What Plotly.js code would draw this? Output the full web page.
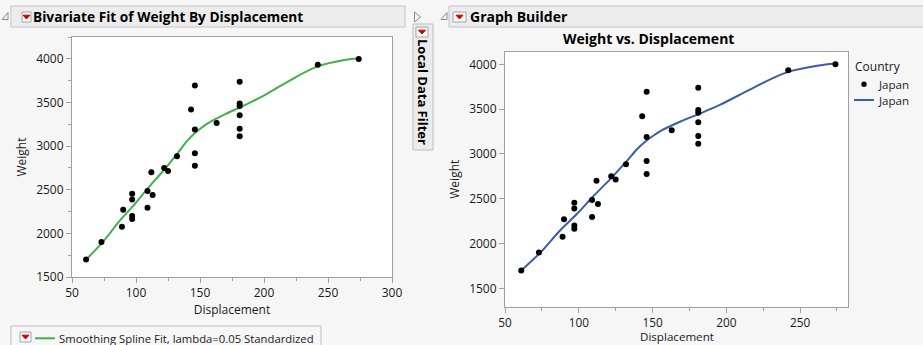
<!DOCTYPE html>
<html><head><meta charset="utf-8">
<script src="https://cdn.plot.ly/plotly-3.0.1.min.js"></script>
<style>html,body{margin:0;padding:0;background:#f6f6f6;}#chart{width:923px;height:345px;}</style>
</head><body><div id="chart"></div>
<script>
// ---- data ----
const displacement = [61, 73, 89, 90, 97, 97, 97, 97, 109, 109, 112, 113, 122, 125, 132, 143, 146, 146, 146, 146, 163, 181, 181, 181, 181, 181, 181, 242, 274];
const weight = [1700, 1900, 2075, 2270, 2455, 2390, 2200, 2165, 2485, 2295, 2700, 2440, 2750, 2715, 2885, 3420, 3695, 3190, 2920, 2775, 3265, 3740, 3490, 3460, 3355, 3200, 3115, 3935, 4000];
// smoothing spline fit
const fitDisplacement = [61, 74, 87, 99, 110, 122, 132, 140, 146, 152, 157, 169, 182, 196, 218, 241, 264, 274];
const fitWeight = [1700, 1900, 2140, 2335, 2530, 2730, 2910, 3060, 3150, 3220, 3270, 3362, 3450, 3550, 3735, 3910, 3990, 4008];
const countryName = "Japan";
const leftTitle = "Bivariate Fit of Weight By Displacement";
const rightTitle = "Graph Builder";
const chartTitle = "Weight vs. Displacement";
const fitLabel = "Smoothing Spline Fit, lambda=0.05 Standardized";
const xTitle = "Displacement";
const yTitle = "Weight";

const W = 923, H = 345;
const fx = x => x / W, fy = y => 1 - y / H;
const FONT = '"Open Sans", "Noto Sans", sans-serif';
const TXT = '#1a1a1a';
const AX = '#a0a0a0';
const GREEN = '#42b049';
const BLUE = '#3b5ca8';

const traces = [
  {x: fitDisplacement, y: fitWeight, xaxis: 'x', yaxis: 'y', mode: 'lines', line: {color: GREEN, width: 2, shape: 'spline', smoothing: 1}, showlegend: false, hoverinfo: 'skip'},
  {x: displacement, y: weight, xaxis: 'x', yaxis: 'y', mode: 'markers', marker: {color: '#000', size: 6}, showlegend: false},
  {x: fitDisplacement, y: fitWeight, xaxis: 'x2', yaxis: 'y2', mode: 'lines', line: {color: BLUE, width: 2, shape: 'spline', smoothing: 1}, name: countryName, showlegend: false, hoverinfo: 'skip'},
  {x: displacement, y: weight, xaxis: 'x2', yaxis: 'y2', mode: 'markers', marker: {color: '#000', size: 6}, name: countryName, showlegend: false}
];

const axBase = {showline: true, mirror: true, linecolor: AX, linewidth: 1, showgrid: false, zeroline: false,
  ticks: 'outside', ticklen: 5, tickcolor: AX, tickfont: {family: FONT, size: 12, color: TXT}, fixedrange: true};

function rect(x0, y0, x1, y1, fill, line, lw) {
  return {type: 'rect', xref: 'paper', yref: 'paper', x0: fx(x0), x1: fx(x1), y0: fy(y1), y1: fy(y0), fillcolor: fill, line: {color: line, width: lw === undefined ? 1 : lw}, layer: 'below'};
}
function path(pts, fill, line, close) {
  let d = pts.map((p, i) => (i ? 'L' : 'M') + fx(p[0]) + ',' + fy(p[1])).join(' ') + (close ? ' Z' : '');
  return {type: 'path', xref: 'paper', yref: 'paper', path: d, fillcolor: fill, line: {color: line, width: 1}};
}
function button(x0, y0, x1, y1) {
  const cx = (x0 + x1) / 2, cy = (y0 + y1) / 2;
  return [
    {type: 'rect', xref: 'paper', yref: 'paper', x0: fx(x0), x1: fx(x1), y0: fy(y1), y1: fy(y0), fillcolor: '#f9f9f9', line: {color: '#a6a6a6', width: 1}},
    path([[cx - 3.5, cy - 1.8], [cx + 3.5, cy - 1.8], [cx, cy + 2]], '#d00000', '#d00000', true)
  ];
}

const shapes = [
  rect(11, 6, 405, 27, '#ececec', '#c4c4c4'),
  rect(449, 6, 935, 27, '#ececec', '#c4c4c4'),
  rect(413, 24, 433, 150, '#ececec', '#bdbdbd'),
  rect(11, 326, 321, 352, '#f6f6f6', '#bdbdbd'),
  path([[8, 12.5], [8, 19.5], [2, 19.5]], 'rgba(0,0,0,0)', '#8a8a8a', true),
  path([[447, 12.5], [447, 19.5], [441, 19.5]], 'rgba(0,0,0,0)', '#8a8a8a', true),
  path([[414.5, 12], [420.5, 17], [414.5, 22]], 'rgba(0,0,0,0)', '#8a8a8a', true),
  ...button(22, 12, 31, 22),
  ...button(453, 12, 466, 22),
  ...button(416, 27, 428, 37),
  ...button(20, 332, 31, 342),
  {type: 'line', xref: 'paper', yref: 'paper', x0: fx(35), x1: fx(55), y0: fy(338.3), y1: fy(338.3), line: {color: GREEN, width: 2}},
  {type: 'circle', xref: 'paper', yref: 'paper', x0: fx(861.3), x1: fx(866.7), y0: fy(87), y1: fy(81.6), fillcolor: '#000', line: {color: '#000', width: 0}},
  {type: 'line', xref: 'paper', yref: 'paper', x0: fx(854), x1: fx(874), y0: fy(100), y1: fy(100), line: {color: BLUE, width: 2}}
];

function ann(text, x, y, opts) {
  return Object.assign({text: text, xref: 'paper', yref: 'paper', x: fx(x), y: fy(y), showarrow: false,
    xanchor: 'left', yanchor: 'middle', font: {family: FONT, size: 12, color: TXT}}, opts || {});
}
const annotations = [
  ann('<b>' + leftTitle + '</b>', 31, 16.8, {font: {family: FONT, size: 13.7, color: '#000'}}),
  ann('<b>' + rightTitle + '</b>', 468, 16.8, {font: {family: FONT, size: 14, color: '#000'}}),
  ann('<b>Local Data Filter</b>', 423, 92, {xanchor: 'center', textangle: 90, font: {family: FONT, size: 13, color: '#000'}}),
  ann('<b>' + chartTitle + '</b>', 648, 38.7, {xanchor: 'center', font: {family: FONT, size: 14, color: '#000'}}),
  ann(fitLabel, 57, 338.3, {font: {family: FONT, size: 11.3, color: TXT}}),
  ann(xTitle, 676.5, 336.3, {xanchor: 'center', font: {family: FONT, size: 11.6, color: TXT}, borderpad: 0}),
  ann('Country', 853, 66),
  ann(countryName, 876, 84.3, {font: {family: FONT, size: 11.5, color: TXT}}),
  ann(countryName, 876, 100.3, {font: {family: FONT, size: 11.5, color: TXT}})
];

const layout = {
  width: W, height: H, margin: {l: 0, r: 0, t: 0, b: 0},
  paper_bgcolor: '#f6f6f6', plot_bgcolor: '#ffffff', showlegend: false,
  font: {family: FONT, size: 12, color: TXT},
  xaxis: Object.assign({}, axBase, {domain: [fx(72), fx(392)], range: [50, 300], dtick: 50, tick0: 50,
    minor: {dtick: 25, ticks: 'outside', ticklen: 3, tickcolor: AX},
    title: {text: xTitle, font: {family: FONT, size: 12, color: TXT}, standoff: 4}, anchor: 'y'}),
  yaxis: Object.assign({}, axBase, {domain: [fy(277), fy(37)], range: [1500, 4252], dtick: 500, tick0: 1500,
    minor: {dtick: 250, ticks: 'outside', ticklen: 3, tickcolor: AX},
    title: {text: yTitle, font: {family: FONT, size: 12, color: TXT}, standoff: 6}, anchor: 'x'}),
  xaxis2: Object.assign({}, axBase, {domain: [fx(505), fx(848)], range: [50, 282.5], dtick: 50, tick0: 50,
    minor: {dtick: 25, ticks: 'outside', ticklen: 3, tickcolor: AX},
    tickfont: {family: FONT, size: 11.8, color: TXT}, anchor: 'y2'}),
  yaxis2: Object.assign({}, axBase, {domain: [fy(306.7), fy(51.7)], range: [1295, 4141], dtick: 500, tick0: 1500,
    title: {text: yTitle, font: {family: FONT, size: 12, color: TXT}, standoff: 6}, anchor: 'x2'}),
  shapes: shapes,
  annotations: annotations
};

Plotly.newPlot('chart', traces, layout, {staticPlot: true, displayModeBar: false});
</script>
</body></html>
